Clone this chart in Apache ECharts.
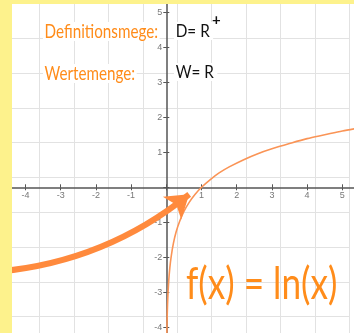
<!DOCTYPE html>
<html>
<head>
<meta charset="utf-8">
<script src="https://cdn.jsdelivr.net/npm/echarts@6/dist/echarts.min.js"></script>
<style>
  html, body { margin: 0; padding: 0; background: #fff; }
  #chart { width: 354px; height: 333px; }
</style>
</head>
<body>
<div id="chart"></div>
<script>
  // ln(x)
  var curveX = [0.013, 0.018, 0.025, 0.035, 0.05, 0.07, 0.1, 0.14, 0.2, 0.28, 0.38, 0.5, 0.65, 0.82, 1, 1.25, 1.5, 1.8, 2.2, 2.6, 3, 3.5, 4, 4.5, 5, 5.5, 6]
  var curveY = [-4.34, -4.02, -3.69, -3.35, -3.0, -2.66, -2.3, -1.97, -1.61, -1.27, -0.97, -0.69, -0.43, -0.2, 0, 0.22, 0.41, 0.59, 0.79, 0.96, 1.1, 1.25, 1.39, 1.5, 1.61, 1.7, 1.79]

  // hand drawn arrow, start and tip in axis units
  var arrowFrom = [-4.72, -2.4]
  var arrowTo = [0.65, -0.2]

  var xRange = [-5, 6]
  var yRange = [-5, 6]
  var labelRange = [-4, 5]

  var orange = '#ff8c1a'
  var axisColor = '#555'

  function tickLabel(v) {
    if (v === 0 || v < labelRange[0] || v > labelRange[1]) {
      return ''
    }
    return String(v)
  }

  var chart = echarts.init(document.getElementById('chart'))

  // second copy of an axis, only for the inner half of the cross ticks
  function innerTicks(range, position, offset) {
    return {
      type: 'value', gridIndex: 1, min: range[0], max: range[1], interval: 1,
      position: position, offset: offset,
      axisLine: {show: false, onZero: false},
      axisTick: {show: true, inside: true, length: 3, lineStyle: {color: axisColor}},
      axisLabel: {show: false},
      splitLine: {show: false}
    }
  }

  chart.setOption({
    animation: false,
    backgroundColor: '#fff',
    grid: [
      // background squares (they sit a bit off the ticks in the original)
      {left: 5.3, top: 3.5, width: 344, height: 348, outerBoundsMode: 'none', containLabel: false},
      // the real axes
      {left: -9.7, right: -23.5, top: -22.7, bottom: -29.3, outerBoundsMode: 'none', containLabel: false}
    ],
    xAxis: [
      {
        type: 'value', gridIndex: 0, min: 0, max: 10, interval: 1,
        axisLine: {show: false}, axisTick: {show: false}, axisLabel: {show: false},
        splitLine: {show: true, lineStyle: {color: '#e2e2e2', width: 1}}
      },
      {
        type: 'value', gridIndex: 1, min: xRange[0], max: xRange[1], interval: 1,
        position: 'bottom', offset: -175,
        axisLine: {onZero: false, lineStyle: {color: axisColor, width: 1.5}},
        axisTick: {length: 3, lineStyle: {color: axisColor}},
        axisLabel: {show: true, color: '#777', fontSize: 9, margin: 4, formatter: tickLabel,
          showMinLabel: true, showMaxLabel: true, hideOverlap: false},
        splitLine: {show: false}
      },
      innerTicks(xRange, 'bottom', -175)
    ],
    yAxis: [
      {
        type: 'value', gridIndex: 0, min: 0, max: 10, interval: 1,
        axisLine: {show: false}, axisTick: {show: false}, axisLabel: {show: false},
        splitLine: {show: true, lineStyle: {color: '#e2e2e2', width: 1}}
      },
      {
        type: 'value', gridIndex: 1, min: yRange[0], max: yRange[1], interval: 1,
        position: 'left', offset: -176,
        axisLine: {onZero: false, lineStyle: {color: axisColor, width: 1.5}},
        axisTick: {length: 3, lineStyle: {color: axisColor}},
        axisLabel: {show: true, color: '#777', fontSize: 9, margin: 4, formatter: tickLabel,
          showMinLabel: true, showMaxLabel: true, hideOverlap: false},
        splitLine: {show: false}
      },
      innerTicks(yRange, 'left', -176)
    ],
    series: [
      {
        type: 'line',
        xAxisIndex: 1,
        yAxisIndex: 1,
        data: curveX.map(function (x, i) { return [x, curveY[i]] }),
        smooth: 0.3,
        showSymbol: false,
        lineStyle: {color: '#fa9456', width: 1.6},
        z: 3
      },
      {
        type: 'lines',
        coordinateSystem: 'cartesian2d',
        xAxisIndex: 1,
        yAxisIndex: 1,
        symbol: ['none', 'arrow'],
        symbolSize: 22,
        lineStyle: {color: '#ff8a3d', width: 6, curveness: -0.15, opacity: 1},
        data: [{coords: [arrowFrom, arrowTo]}],
        z: 4
      }
    ],
    graphic: [
      {type: 'rect', left: 0, top: 0, shape: {width: 12, height: 333}, style: {fill: '#fdf28c'}, z: 10},
      {type: 'rect', left: 0, top: 0, shape: {width: 354, height: 4}, style: {fill: '#fdf28c'}, z: 10},
      {
        type: 'text', x: 43, y: 22, scaleX: 0.8, z: 8,
        style: {text: 'Definitionsmege:', fontFamily: 'Lato', fontSize: 19, fill: orange,
          verticalAlign: 'top', backgroundColor: '#fff', padding: [0, 2]}
      },
      {
        type: 'text', x: 43, y: 64, scaleX: 0.8, z: 8,
        style: {text: 'Wertemenge:', fontFamily: 'Lato', fontSize: 19, fill: orange,
          verticalAlign: 'top', backgroundColor: '#fff', padding: [0, 2]}
      },
      {
        type: 'text', x: 174, y: 22, scaleX: 0.85, z: 8,
        style: {text: 'D= R', fontFamily: 'Lato', fontSize: 18, fill: '#111',
          verticalAlign: 'top', backgroundColor: '#fff', padding: [0, 4, 0, 2]}
      },
      {
        type: 'text', x: 212, y: 13, z: 8,
        style: {text: '+', fontFamily: 'Lato', fontSize: 15, fontWeight: 'bold', fill: '#111', verticalAlign: 'top'}
      },
      {
        type: 'text', x: 174, y: 63, scaleX: 0.85, z: 8,
        style: {text: 'W= R', fontFamily: 'Lato', fontSize: 18, fill: '#111',
          verticalAlign: 'top', backgroundColor: '#fff', padding: [0, 4, 0, 2]}
      },
      {
        type: 'text', x: 186, y: 263, scaleX: 0.8, z: 8,
        style: {text: 'f(x) = ln(x)', fontFamily: 'Lato', fontSize: 44, fill: orange, verticalAlign: 'top'}
      }
    ]
  })
</script>
</body>
</html>
